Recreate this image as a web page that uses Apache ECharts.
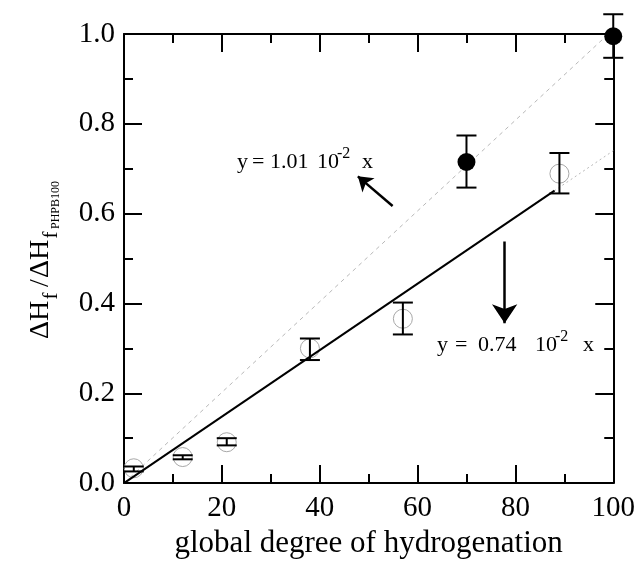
<!DOCTYPE html>
<html>
<head>
<meta charset="utf-8">
<script src="https://cdn.jsdelivr.net/npm/echarts/dist/echarts.min.js"></script>
<style>
html,body{margin:0;padding:0;background:#fff;}
#c{width:638px;height:564px;}
</style>
</head>
<body>
<div id="c"></div>
<script>
// ---- data ----
const xTicks = [0, 20, 40, 60, 80, 100];
const yTicks = [0.0, 0.2, 0.4, 0.6, 0.8, 1.0];

const xOpen = [2, 12, 21, 38, 57, 89];
const yOpen = [0.033, 0.058, 0.091, 0.300, 0.366, 0.689];
const lowOpen = [0.026, 0.053, 0.084, 0.274, 0.331, 0.645];
const highOpen = [0.037, 0.062, 0.100, 0.322, 0.402, 0.735];

const xFilled = [70, 100];
const yFilled = [0.715, 0.995];
const lowFilled = [0.658, 0.947];
const highFilled = [0.774, 1.044];

const slopeAll = 1.01e-2;   // dashed fit
const slopeOpen = 0.74e-2;  // solid fit
const solidEndX = 88;
const fitStartX = 0;
const fitEndX = 100;

const arrow1 = [[54.9, 0.617], [47.8, 0.683]];
const arrow2 = [[77.8, 0.538], [77.8, 0.356]];

const xName = 'global degree of hydrogenation';

// ---- build ----
const serif = '"Liberation Serif", "DejaVu Serif", serif';
const openPts = xOpen.map((x, i) => [x, yOpen[i]]);
const filledPts = xFilled.map((x, i) => [x, yFilled[i]]);
const errData = xOpen.map((x, i) => [x, lowOpen[i], highOpen[i]])
  .concat(xFilled.map((x, i) => [x, lowFilled[i], highFilled[i]]));

const dashedLine = [[fitStartX, slopeAll * fitStartX], [fitEndX, slopeAll * fitEndX]];
const dottedLine = [[fitStartX, slopeOpen * fitStartX], [fitEndX, slopeOpen * fitEndX]];
const solidLine = [[fitStartX, slopeOpen * fitStartX], [solidEndX, slopeOpen * solidEndX]];

function txt(text, x, y, size, opts) {
  opts = opts || {};
  return {
    type: 'text', x: x, y: y, rotation: opts.rotation || 0, z: 100,
    style: {
      text: text, fontSize: size, fontFamily: serif, fill: '#000',
      align: opts.align || 'left', verticalAlign: opts.va || 'middle'
    }
  };
}

const graphics = [
  // equation 1
  txt('y', 237, 162, 22), txt('=', 252, 162, 22), txt('1.01', 270, 162, 22),
  txt('10', 317, 162, 22), txt('-2', 337, 154, 16), txt('x', 362, 162, 22),
  // equation 2
  txt('y', 437, 345, 22), txt('=', 455, 345, 22), txt('0.74', 478, 345, 22),
  txt('10', 535, 345, 22), txt('-2', 555, 337, 16), txt('x', 583, 345, 22),
  // y-axis title (rotated)
  txt('\u0394H', 41, 320, 28, {rotation: Math.PI / 2, align: 'center'}),
  txt('f', 51, 296, 21, {rotation: Math.PI / 2, align: 'center'}),
  txt('/', 41, 283, 28, {rotation: Math.PI / 2, align: 'center'}),
  txt('\u0394H', 41, 259, 28, {rotation: Math.PI / 2, align: 'center'}),
  txt('f', 51, 235, 21, {rotation: Math.PI / 2, align: 'center'}),
  txt('PHPB100', 56, 205, 12, {rotation: Math.PI / 2, align: 'center'})
];

const axisCommon = {
  type: 'value',
  axisLine: {show: true, onZero: false, lineStyle: {color: '#000', width: 2}},
  axisTick: {show: true, inside: true, length: 18, lineStyle: {color: '#000', width: 2}},
  minorTick: {show: true, splitNumber: 2, length: 9, lineStyle: {color: '#000', width: 2}},
  splitLine: {show: false}
};

const option = {
  animation: false,
  backgroundColor: '#fff',
  grid: {left: 124, right: 24, top: 34, bottom: 74},
  xAxis: [
    Object.assign({}, axisCommon, {
      position: 'bottom', min: xTicks[0], max: xTicks[xTicks.length - 1], interval: xTicks[1] - xTicks[0],
      axisLabel: {fontFamily: serif, fontSize: 29, color: '#000', margin: 11},
      name: xName, nameLocation: 'middle', nameGap: 41,
      nameTextStyle: {fontFamily: serif, fontSize: 31, color: '#000', verticalAlign: 'top'}
    }),
    Object.assign({}, axisCommon, {
      position: 'top', min: xTicks[0], max: xTicks[xTicks.length - 1], interval: xTicks[1] - xTicks[0],
      axisLabel: {show: false}
    })
  ],
  yAxis: [
    Object.assign({}, axisCommon, {
      position: 'left', min: yTicks[0], max: yTicks[yTicks.length - 1], interval: 0.2,
      axisLabel: {fontFamily: serif, fontSize: 29, color: '#000', margin: 9,
        formatter: v => v.toFixed(1)}
    }),
    Object.assign({}, axisCommon, {
      position: 'right', min: yTicks[0], max: yTicks[yTicks.length - 1], interval: 0.2,
      axisLabel: {show: false}
    })
  ],
  graphic: graphics,
  series: [
    {type: 'line', data: dashedLine, symbol: 'none', z: 2,
      lineStyle: {color: '#b8b8b8', width: 1, type: [4, 4]}},
    {type: 'line', data: dottedLine, symbol: 'none', z: 2,
      lineStyle: {color: '#b8b8b8', width: 1, type: [2, 3]}},
    {type: 'line', data: solidLine, symbol: 'none', z: 4,
      lineStyle: {color: '#000', width: 2}},
    {type: 'scatter', data: openPts, symbol: 'circle', symbolSize: 19, z: 3,
      itemStyle: {color: 'rgba(0,0,0,0)', borderColor: '#a8a8a8', borderWidth: 1, opacity: 1}},
    {type: 'scatter', data: filledPts, symbol: 'circle', symbolSize: 18, z: 5, clip: false,
      itemStyle: {color: '#000', opacity: 1}},
    {type: 'custom', data: errData, z: 6, clip: false,
      renderItem: function (params, api) {
        const x = api.value(0);
        const lo = api.coord([x, api.value(1)]);
        const hi = api.coord([x, api.value(2)]);
        const w = 10;
        const st = {stroke: '#000', lineWidth: 2, fill: null};
        return {type: 'group', children: [
          {type: 'line', shape: {x1: lo[0], y1: lo[1], x2: hi[0], y2: hi[1]}, style: st},
          {type: 'line', shape: {x1: lo[0] - w, y1: lo[1], x2: lo[0] + w, y2: lo[1]}, style: st},
          {type: 'line', shape: {x1: hi[0] - w, y1: hi[1], x2: hi[0] + w, y2: hi[1]}, style: st}
        ]};
      }},
    {type: 'lines', coordinateSystem: 'cartesian2d', z: 7,
      symbol: ['none', 'arrow'], symbolSize: 14,
      lineStyle: {color: '#000', width: 2.5, opacity: 1},
      data: [{coords: arrow1}]},
    {type: 'lines', coordinateSystem: 'cartesian2d', z: 7,
      symbol: ['none', 'arrow'], symbolSize: 19,
      lineStyle: {color: '#000', width: 2.5, opacity: 1},
      data: [{coords: arrow2}]}
  ]
};

const chart = echarts.init(document.getElementById('c'), null, {renderer: 'canvas'});
chart.setOption(option);
</script>
</body>
</html>
